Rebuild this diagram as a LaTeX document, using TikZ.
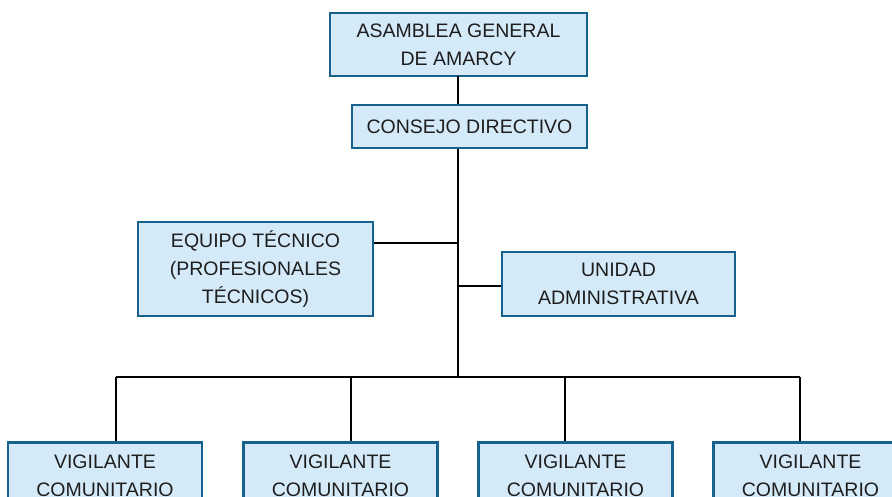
\documentclass[tikz,border=0pt]{standalone}
\usepackage{fontspec}
\setmainfont{Liberation Sans}
\usepackage{tikz}
\usetikzlibrary{positioning}
\usetikzlibrary{calc}

\definecolor{boxfill}{RGB}{213,234,249}
\definecolor{boxline}{RGB}{22,98,140}
\definecolor{txt}{RGB}{30,30,30}

\begin{document}
\begin{tikzpicture}[x=1pt,y=-1pt]
		\useasboundingbox (0,0) rectangle (892,497);
		\clip (0,0) rectangle (892,497);
		\begin{scope}[every node/.style={draw=boxline, fill=boxfill, line width=2.6pt, text=txt, align=center, inner sep=0pt, font=\fontsize{19.5}{28}\selectfont}]
			\node[minimum width=257pt, minimum height=63pt] (asamblea) at (458.5,44.5) {ASAMBLEA GENERAL\\DE AMARCY};
			\node[minimum width=235pt, minimum height=43pt] (consejo) at (469.5,126.5) {CONSEJO DIRECTIVO};
			\node[minimum width=235pt, minimum height=94pt] (equipo) at (255.5,269) {EQUIPO TÉCNICO\\(PROFESIONALES\\TÉCNICOS)};
			\node[minimum width=233pt, minimum height=64pt] (unidad) at (618.5,284) {UNIDAD\\ADMINISTRATIVA};
		\end{scope}
		\begin{scope}[every node/.style={draw=boxline, fill=boxfill, line width=2.6pt, text=txt, align=center, anchor=north, inner xsep=0pt, inner ysep=13pt, minimum width=194pt, font=\fontsize{19.5}{28}\selectfont}]
			\node (vig1) at (105,441) {VIGILANTE\\COMUNITARIO};
			\node (vig2) at (340.5,441) {VIGILANTE\\COMUNITARIO};
			\node (vig3) at (575.5,441) {VIGILANTE\\COMUNITARIO};
			\node (vig4) at (810.5,441) {VIGILANTE\\COMUNITARIO};
		\end{scope}
		\coordinate (top) at (458,76);
		\coordinate (bus) at (458,377);
		\coordinate (eq) at (458,243);
		\coordinate (un) at (458,286);
		\coordinate (d1) at (116,377);
		\coordinate (d2) at (351,377);
		\coordinate (d3) at (565,377);
		\coordinate (d4) at (800,377);
		\begin{scope}[line width=1.8pt, black]
			\draw (top) -- (top |- consejo.north);
			\draw (top |- consejo.south) -- (bus);
			\draw (eq) -- (eq -| equipo.east);
			\draw (un) -- (un -| unidad.west);
			\draw (d1) -- (d4);
			\draw (d1) -- (d1 |- vig1.north);
			\draw (d2) -- (d2 |- vig2.north);
			\draw (d3) -- (d3 |- vig3.north);
			\draw (d4) -- (d4 |- vig4.north);
		\end{scope}
	\end{tikzpicture}
\end{document}
